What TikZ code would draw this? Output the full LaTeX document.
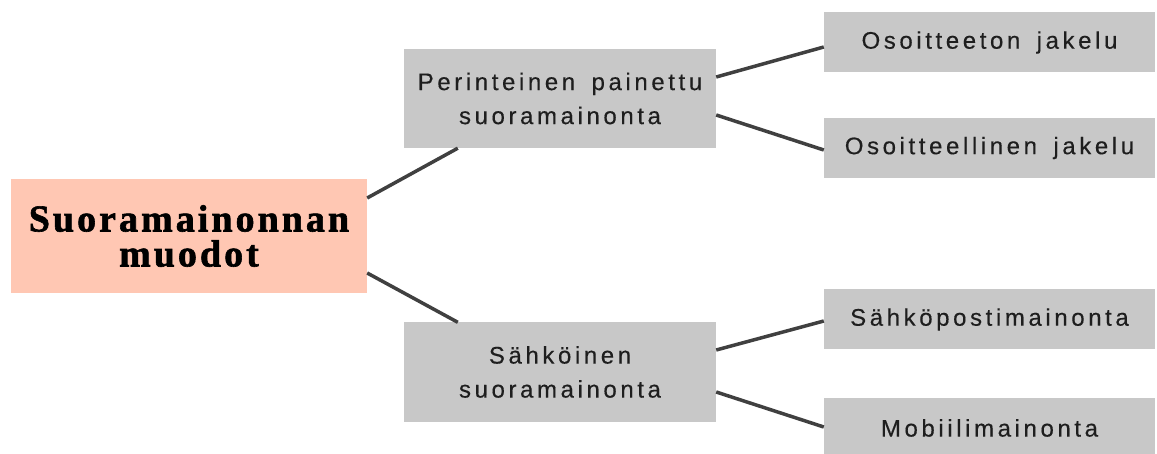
\documentclass[tikz,border=0pt]{standalone}
\usepackage{fontspec}
\setmainfont{Liberation Sans}
\newfontfamily\rootfont[LetterSpace=8,FakeBold=1.6]{Liberation Serif}
\newfontfamily\boxfont[LetterSpace=15,WordSpace=1.6,FakeBold=0.3]{Liberation Sans}

\definecolor{salmon}{HTML}{FFC7B3}
\definecolor{boxgray}{HTML}{C8C8C8}
\definecolor{linkgray}{HTML}{404040}
\definecolor{textgray}{HTML}{1E1E1E}

\begin{document}
\begin{tikzpicture}[
    x=1pt, y=-1pt,
    root/.style={fill=salmon, minimum width=356pt, minimum height=114pt, inner sep=0pt, align=center, font=\rootfont\bfseries\fontsize{38}{35}\selectfont},
    branch/.style={fill=boxgray, text=textgray, minimum width=312pt, minimum height=99pt, inner sep=0pt, align=center, font=\boxfont\fontsize{24}{34}\selectfont},
    leaf/.style={fill=boxgray, text=textgray, minimum width=331pt, minimum height=60pt, inner sep=0pt, font=\boxfont\fontsize{24}{26}\selectfont},
    link/.style={draw=linkgray, line width=3.5pt}
]
\useasboundingbox (0,0) rectangle (1157,454);

% Juuri
\node[root] (muodot) at (189, 236) {Suoramainonnan\\muodot};

% Haarat
\node[branch] (painettu) at (560, 98.5) {Perinteinen painettu\\suoramainonta};
\node[branch] (sahkoinen) at (560, 372) {S\"ahk\"oinen\\suoramainonta};

% Lehdet
\node[leaf] (osoitteeton) at (989.5, 42.5) {Osoitteeton jakelu};
\node[leaf] (osoitteellinen) at (989.5, 148) {Osoitteellinen jakelu};
\node[leaf] (sahkoposti) at (989.5, 319.5) {S\"ahk\"opostimainonta};
\node[leaf] (mobiili) at (989.5, 428) {Mobiilimainonta};

% Yhteydet
\draw[link] ([yshift=38pt]muodot.east) -- ([xshift=54pt]painettu.south west);
\draw[link] ([yshift=-37pt]muodot.east) -- ([xshift=54pt]sahkoinen.north west);
\draw[link] ([yshift=21.5pt]painettu.east) -- ([yshift=-4.5pt]osoitteeton.west);
\draw[link] ([yshift=-16.5pt]painettu.east) -- ([yshift=-2pt]osoitteellinen.west);
\draw[link] ([yshift=22pt]sahkoinen.east) -- ([yshift=-1.5pt]sahkoposti.west);
\draw[link] ([yshift=-20pt]sahkoinen.east) -- ([yshift=1pt]mobiili.west);
\end{tikzpicture}
\end{document}
